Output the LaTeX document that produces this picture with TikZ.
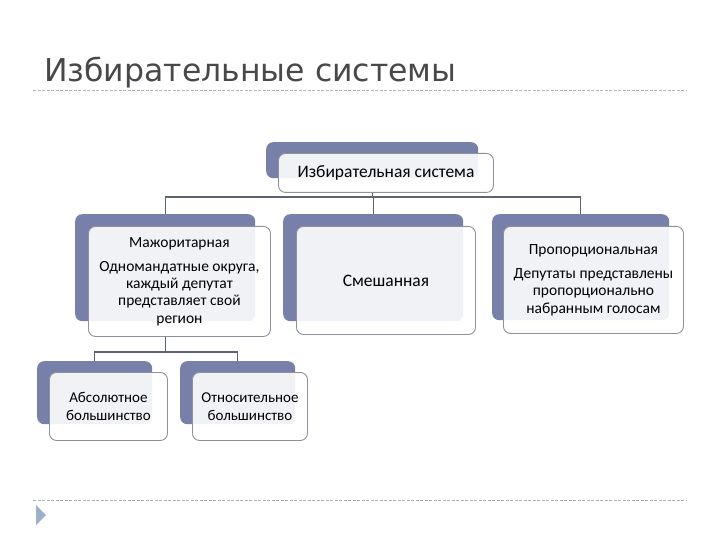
\documentclass[tikz,border=0pt]{standalone}
\usepackage{fontspec}
\setmainfont{Carlito}
\newfontfamily\titlefont{DejaVu Sans}
\usetikzlibrary{positioning,calc}
\definecolor{slate}{HTML}{7680A8}
\definecolor{frame}{HTML}{8E909C}
\definecolor{wire}{HTML}{5E6373}
\definecolor{rule}{HTML}{A8B4C4}
\definecolor{ink}{HTML}{484848}
\definecolor{marker}{HTML}{9CAFCB}

\begin{document}
\begin{tikzpicture}[x=1pt,y=-1pt,
    back/.style={fill=slate, rounded corners=7pt, anchor=north west, inner sep=0pt},
    front/.style={draw=frame, line width=0.9pt, fill=white, fill opacity=0.9, text opacity=1,
        rounded corners=7pt, anchor=north west, inner sep=0pt, align=center,
        font=\fontsize{15.5}{17.3}\selectfont},
    wire/.style={draw=wire, line width=1.1pt},
    rule/.style={draw=rule, line width=0.7pt, dash pattern=on 3pt off 1.5pt}]
    \useasboundingbox (0,0) rectangle (720,540);

    % title
    \node[anchor=base west, inner sep=0pt, text=ink, font=\titlefont\fontsize{31.5}{35}\selectfont] (title) at (44,82) {Избирательные системы};
    \draw[rule] (33,90) -- (686,90);
    \draw[rule] (33,500) -- (686,500);
    \fill[marker] (36,505) -- (46,515) -- (36,525) -- cycle;

    % root
    \node[back, minimum width=212pt, minimum height=36pt] (topback) at (266,142) {};
    \node[front, minimum width=215pt, minimum height=39pt, font=\fontsize{17.5}{20}\selectfont] (top) at (278,153) {Избирательная система};

    % second level
    \node[back, minimum width=180pt, minimum height=107pt] (majback) at (75,214) {};
    \node[front, minimum width=182pt, minimum height=110pt] (maj) at (88,226)
        {Мажоритарная\\[7pt]Одномандатные округа,\\каждый депутат\\представляет свой\\регион};
    \node[back, minimum width=180pt, minimum height=107pt] (mixback) at (283,214) {};
    \node[front, minimum width=179pt, minimum height=108pt, font=\fontsize{17.5}{20}\selectfont] (mix) at (296,226) {Смешанная};
    \node[back, minimum width=177pt, minimum height=106pt] (propback) at (492,214) {};
    \node[front, minimum width=180pt, minimum height=107pt] (prop) at (503,226)
        {Пропорциональная\\[7pt]Депутаты представлены\\пропорционально\\набранным голосам};

    % third level
    \node[back, minimum width=115pt, minimum height=63pt] (absback) at (37,361) {};
    \node[front, minimum width=118pt, minimum height=68pt, font=\fontsize{15}{18}\selectfont] (abs) at (49,372) {Абсолютное\\большинство};
    \node[back, minimum width=115pt, minimum height=63pt] (relback) at (180,361) {};
    \node[front, minimum width=115pt, minimum height=68pt, font=\fontsize{15}{18}\selectfont] (rel) at (192,372) {Относительное\\большинство};

    % connectors
    \coordinate (j1) at (0,197);
    \coordinate (j2) at (0,352);
    \draw[wire] (topback.south |- top.south) -- (topback.south |- j1) -| (majback.north);
    \draw[wire] (topback.south |- j1) -| (mixback.north);
    \draw[wire] (topback.south |- j1) -| (propback.north);
    \draw[wire] (majback.south |- maj.south) -- (majback.south |- j2) -| (absback.north);
    \draw[wire] (majback.south |- j2) -| (relback.north);
\end{tikzpicture}
\end{document}
